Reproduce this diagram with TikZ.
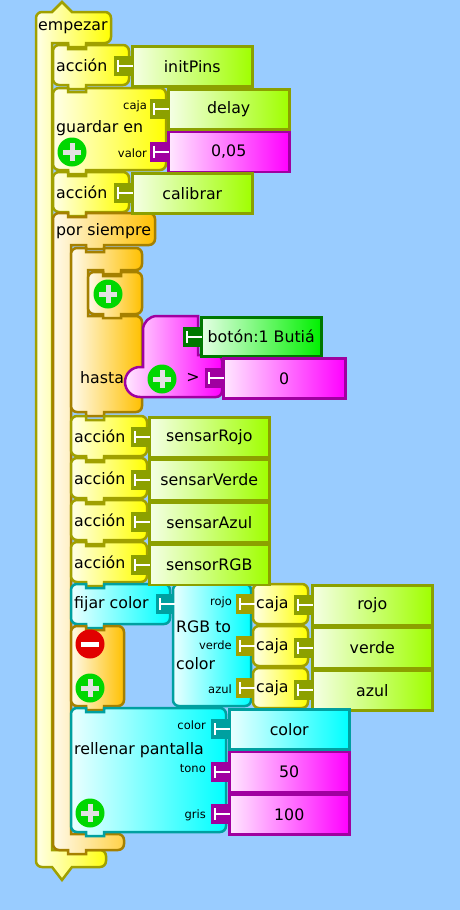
\documentclass[tikz,border=0pt]{standalone}
\usepackage{fontspec}
\setmainfont{DejaVu Sans}
\usetikzlibrary{positioning}
\definecolor{bgblue}{RGB}{153,204,255}
\definecolor{ylwL}{RGB}{255,255,232}
\definecolor{ylwR}{RGB}{255,255,0}
\definecolor{ylwLine}{RGB}{160,160,0}
\definecolor{limeL}{RGB}{245,255,230}
\definecolor{limeR}{RGB}{160,255,0}
\definecolor{limeLine}{RGB}{140,160,0}
\definecolor{orgL}{RGB}{255,250,235}
\definecolor{orgR}{RGB}{255,192,0}
\definecolor{orgLine}{RGB}{165,128,0}
\definecolor{magL}{RGB}{255,232,255}
\definecolor{magR}{RGB}{255,0,255}
\definecolor{magLine}{RGB}{160,0,160}
\definecolor{cynL}{RGB}{235,255,255}
\definecolor{cynR}{RGB}{0,255,255}
\definecolor{cynLine}{RGB}{0,160,160}
\definecolor{grnL}{RGB}{230,255,230}
\definecolor{grnR}{RGB}{0,240,0}
\definecolor{grnLine}{RGB}{0,120,0}
\definecolor{plusGreen}{RGB}{0,215,0}
\definecolor{plusGray}{RGB}{225,225,225}
\definecolor{minusRed}{RGB}{225,0,0}
\newcommand\blocktxt{\fontsize{15.8}{18}\selectfont}
\newcommand\socktxt{\fontsize{11.5}{13}\selectfont}
% command block: x, y, width, height, style
\newcommand\cmdblk[5]{%
  \draw[#5] (#1,#2+6) arc(180:270:6) -- (#1+15,#2) -- ++(0,4) -- ++(18,0) -- ++(0,-4)
    -- (#1+#3-6,#2) arc(270:360:6) -- (#1+#3,#2+#4-6) arc(0:90:6)
    -- (#1+33,#2+#4) -- ++(0,4) -- ++(-18,0) -- ++(0,-4) -- (#1+6,#2+#4) arc(90:180:6) -- cycle;}
% clamp block: x, y, width, head height, bar, foot y, foot width, foot height, style
\newcommand\clamp[9]{%
  \draw[#9] (#1,#2+6) arc(180:270:6) -- (#1+15,#2) -- ++(0,4) -- ++(18,0) -- ++(0,-4)
    -- (#1+#3-6,#2) arc(270:360:6) -- (#1+#3,#2+#4-6) arc(0:90:6)
    -- (#1+#5+33,#2+#4) -- ++(0,4) -- ++(-18,0) -- ++(0,-4) -- (#1+#5,#2+#4)
    -- (#1+#5,#6) -- (#1+#7-6,#6) arc(270:360:6) -- (#1+#7,#6+#8-6) arc(0:90:6)
    -- (#1+33,#6+#8) -- ++(0,4) -- ++(-18,0) -- ++(0,-4) -- (#1+6,#6+#8) arc(90:180:6) -- cycle;}

\begin{document}
\begin{tikzpicture}[x=1pt, y=-1pt,
    node distance=0pt,
    ylw/.style={draw=ylwLine, left color=ylwL, right color=ylwR, line width=2.5pt},
    org/.style={draw=orgLine, left color=orgL, right color=orgR, line width=2.5pt},
    cyn/.style={draw=cynLine, left color=cynL, right color=cynR, line width=2.5pt},
    mag/.style={draw=magLine, left color=magL, right color=magR, line width=2.5pt},
    namebox/.style={rectangle, draw=limeLine, left color=limeL, right color=limeR,
                    line width=2.5pt, minimum width=120pt, minimum height=40pt,
                    inner sep=0pt, font=\blocktxt},
    magbox/.style={namebox, draw=magLine, left color=magL, right color=magR},
    cynbox/.style={namebox, draw=cynLine, left color=cynL, right color=cynR},
    grnbox/.style={namebox, draw=grnLine, left color=grnL, right color=grnR},
    lbl/.style={anchor=west, inner sep=0pt, font=\blocktxt},
    sock/.style={anchor=east, inner sep=0pt, font=\socktxt},
    plug/.pic={\fill[pic actions] (-17,-10) rectangle (0,10);
               \draw[white, line width=1.8pt] (-13,-6) -- (-13,6) (-13,0) -- (2,0);},
    plus/.pic={\fill[plusGreen] (0,0) circle (14.5);
               \draw[plusGray, line width=5pt] (-9,0) -- (9,0) (0,-9) -- (0,9);},
    minus/.pic={\fill[minusRed] (0,0) circle (14.5);
                \draw[white, line width=5pt] (-9,0) -- (9,0);}
]
\fill[bgblue] (0,0) rectangle (460,910);
\useasboundingbox (0,0) rectangle (460,910);

% start block
\draw[ylw] (36,18) arc(180:270:6) -- (52,12) -- (62,2) -- (72,12) -- (105,12) arc(270:360:6)
  -- (111,37) arc(0:90:6) -- (86,43) -- (86,47) -- (68,47) -- (68,43) -- (52,43)
  -- (52,850) -- (100,850) arc(270:360:6) -- (106,861) arc(0:90:6)
  -- (72,867) -- (62,880) -- (52,867) -- (42,867) arc(90:180:6) -- cycle;

\cmdblk{53}{45}{76}{40}{ylw}
\cmdblk{53}{88}{113}{82}{ylw}
\cmdblk{53}{172}{76}{40}{ylw}

% forever
\clamp{53}{213}{102}{32}{18}{834}{71}{16}{org}
% until
\clamp{71}{248}{71}{22}{17}{316}{71}{96}{org}
\cmdblk{88}{272}{54}{42}{org}
\draw[mag] (143,330) arc(180:270:14) -- (198,316) -- (198,355) -- (216,355) arc(270:360:6)
  -- (222,391) arc(0:90:6) -- (140,397) arc(90:270:15) -- (143,367) -- cycle;

\cmdblk{71}{416}{76}{40}{ylw}
\cmdblk{71}{458}{76}{40}{ylw}
\cmdblk{71}{500}{76}{40}{ylw}
\cmdblk{71}{542}{76}{40}{ylw}

\cmdblk{71}{584}{99}{40}{cyn}
\cmdblk{71}{626}{53}{80}{org}
\draw[cyn, rounded corners=6pt] (173,584) rectangle (251,706);
\draw[ylw, rounded corners=6pt] (253,584) rectangle (308,624);
\draw[ylw, rounded corners=6pt] (253,626) rectangle (308,666);
\draw[ylw, rounded corners=6pt] (253,668) rectangle (308,708);

\cmdblk{71}{708}{155}{124}{cyn}

% value boxes
\node[namebox, anchor=north west] (initPins) at (131,45) {initPins};
\node[namebox, anchor=north west, minimum width=121pt] (delay) at (167,88) {delay};
\node[magbox, below=of delay, minimum width=121pt] (val005) {0,05};
\node[namebox, anchor=north west] (calibrar) at (131,172) {calibrar};
\node[grnbox, anchor=north west, minimum height=39pt] (boton) at (200,316) {botón:1 Butiá};
\node[magbox, anchor=north west, minimum width=122pt] (zero) at (222,357) {0};
\node[namebox, anchor=north west] (sensarRojo) at (148,416) {sensarRojo};
\node[namebox, below=of sensarRojo] (sensarVerde) {sensarVerde};
\node[namebox, below=of sensarVerde] (sensarAzul) {sensarAzul};
\node[namebox, below=of sensarAzul] (sensorRGB) {sensorRGB};
\node[namebox, anchor=north west] (rojo) at (311,584) {rojo};
\node[namebox, below=of rojo] (verde) {verde};
\node[namebox, below=of verde] (azul) {azul};
\node[cynbox, anchor=north west] (colorbox) at (228,708) {color};
\node[magbox, below=of colorbox] (tono50) {50};
\node[magbox, below=of tono50] (gris100) {100};

% sockets
\pic[fill=limeLine] at (initPins.west) {plug};
\pic[fill=limeLine] at (delay.west) {plug};
\pic[fill=magLine] at (val005.west) {plug};
\pic[fill=limeLine] at (calibrar.west) {plug};
\pic[fill=grnLine] at (boton.west) {plug};
\pic[fill=magLine] at (zero.west) {plug};
\foreach \n in {sensarRojo,sensarVerde,sensarAzul,sensorRGB}
  \pic[fill=limeLine] at (\n.west) {plug};
\pic[fill=cynLine] at (173,604) {plug};
\foreach \y in {604,646,688}
  \pic[fill=ylwLine] at (253,\y) {plug};
\foreach \n in {rojo,verde,azul}
  \pic[fill=limeLine] at (\n.west) {plug};
\pic[fill=cynLine] at (colorbox.west) {plug};
\pic[fill=magLine] at (tono50.west) {plug};
\pic[fill=magLine] at (gris100.west) {plug};

% labels
\node[lbl] (tEmpezar) at (38,28) {empezar};
\node[lbl] (tAccion1) at (56,65) {acción};
\node[lbl] (tGuardar) at (56,128) {guardar en};
\node[sock] (tCaja) at (147,106) {caja};
\node[sock] (tValor) at (147,153) {valor};
\node[lbl] (tAccion2) at (56,192) {acción};
\node[lbl] (tSiempre) at (56,231) {por siempre};
\node[lbl] (tHasta) at (80,378) {hasta};
\node[font=\blocktxt, inner sep=0pt] (tMayor) at (193,378) {>};
\node[lbl] (tAccion3) at (74,436) {acción};
\node[lbl] (tAccion4) at (74,478) {acción};
\node[lbl] (tAccion5) at (74,520) {acción};
\node[lbl] (tAccion6) at (74,562) {acción};
\node[lbl] (tFijar) at (74,604) {fijar color};
\node[lbl] (tRGB) at (176,627) {RGB to};
\node[lbl] (tColor) at (176,664) {color};
\node[sock] (tRojo) at (232,602) {rojo};
\node[sock] (tVerde) at (232,645) {verde};
\node[sock] (tAzul) at (232,689) {azul};
\node[lbl] (tCaja1) at (256,604) {caja};
\node[lbl] (tCaja2) at (256,646) {caja};
\node[lbl] (tCaja3) at (256,688) {caja};
\node[lbl] (tRellenar) at (74,750) {rellenar pantalla};
\node[sock] (tColor2) at (206,725) {color};
\node[sock] (tTono) at (206,769) {tono};
\node[sock] (tGris) at (206,815) {gris};

% plus / minus buttons
\pic at (72,152) {plus};
\pic at (108,294) {plus};
\pic at (162,379) {plus};
\pic at (90,644) {minus};
\pic at (90,688) {plus};
\pic at (90,813) {plus};
\end{tikzpicture}
\end{document}
